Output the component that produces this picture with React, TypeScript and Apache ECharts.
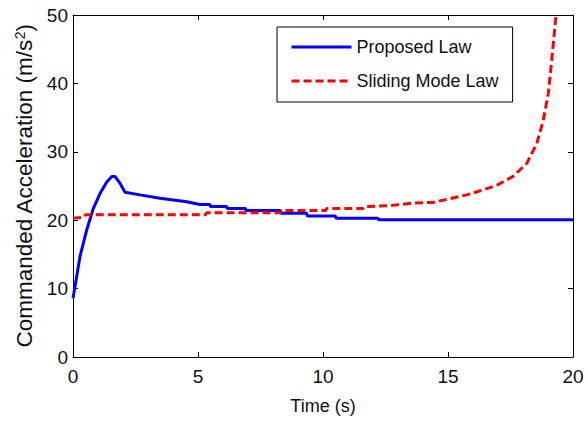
import React, { useEffect, useRef } from "react";
import * as echarts from "echarts";

const xTicks = [0, 5, 10, 15, 20];
const yTicks = [0, 10, 20, 30, 40, 50];

const proposedT = [0, 0.08, 0.28, 0.55, 0.81, 1.08, 1.35, 1.55, 1.68, 1.88, 2.08, 2.68, 3.48, 4.55, 5.08, 5.48, 5.5, 6.15, 6.17, 6.9, 6.92, 8.3, 8.32, 9.35, 9.37, 10.5, 10.52, 12.2, 12.22, 20];
const proposedA = [8.6, 10.3, 14.7, 18.6, 21.7, 23.9, 25.6, 26.4, 26.4, 25.4, 24.1, 23.7, 23.2, 22.7, 22.3, 22.3, 22.0, 22.0, 21.7, 21.7, 21.4, 21.4, 21.0, 21.0, 20.6, 20.6, 20.3, 20.3, 20.05, 20.05];

const slidingT = [0, 0.4, 0.5, 5.3, 5.35, 8.3, 8.35, 10.1, 10.15, 11.6, 11.65, 12.6, 13.6, 14.4, 14.95, 15.75, 16.28, 16.95, 17.6, 18.15, 18.55, 18.81, 19.01, 19.15, 19.32];
const slidingA = [20.3, 20.4, 20.8, 20.8, 21.1, 21.1, 21.4, 21.4, 21.7, 21.7, 22.0, 22.1, 22.5, 22.6, 23.05, 23.7, 24.3, 25.1, 26.4, 28.3, 31.2, 34.6, 38.5, 43.4, 50];

const seriesNames = ["Proposed Law", "Sliding Mode Law"];
const xName = "Time (s)";

const FONT = "Liberation Sans, Arial, Helvetica, sans-serif";

export default function App() {
  const ref = useRef<HTMLDivElement>(null);
  useEffect(() => {
    if (!ref.current) return;
    const chart = echarts.init(ref.current, undefined, { renderer: "svg" });
    const tick = { show: true, inside: true, length: 5, lineStyle: { color: "#000", width: 1 } };
    const line = { show: true, onZero: false, lineStyle: { color: "#000", width: 1 } };
    const xBase = {
      type: "value",
      min: xTicks[0],
      max: xTicks[xTicks.length - 1],
      interval: xTicks[1] - xTicks[0],
      splitLine: { show: false },
      axisLine: line,
      axisTick: tick,
    };
    const yBase = {
      type: "value",
      min: yTicks[0],
      max: yTicks[yTicks.length - 1],
      interval: yTicks[1] - yTicks[0],
      splitLine: { show: false },
      axisLine: line,
      axisTick: tick,
    };
    chart.setOption({
      animation: false,
      backgroundColor: "#fff",
      textStyle: { fontFamily: FONT },
      grid: { left: 73, top: 15, right: 15, bottom: 64, containLabel: false },
      legend: {
        orient: "vertical",
        left: 277,
        top: 27,
        padding: [10, 14, 11, 13],
        borderColor: "#000",
        borderWidth: 1,
        borderRadius: 0,
        backgroundColor: "#fff",
        itemWidth: 60,
        itemHeight: 14,
        itemGap: 14,
        itemStyle: { opacity: 0 },
        lineStyle: { width: 3 },
        data: seriesNames,
        textStyle: { fontSize: 18, color: "#111", fontFamily: FONT, lineHeight: 20 },
      },
      xAxis: [
        {
          ...xBase,
          position: "bottom",
          name: xName,
          nameLocation: "middle",
          nameGap: 40,
          nameTextStyle: { fontSize: 18, color: "#111", fontFamily: FONT },
          axisLabel: { fontSize: 19, color: "#111", margin: 10, fontFamily: FONT },
        },
        { ...xBase, position: "top", axisLabel: { show: false } },
      ],
      yAxis: [
        {
          ...yBase,
          position: "left",
          name: "Commanded Acceleration (m/s{sup|2})",
          nameLocation: "middle",
          nameRotate: 90,
          nameGap: 34,
          nameTextStyle: {
            fontSize: 22.5,
            color: "#111",
            fontFamily: FONT,
            rich: { sup: { fontSize: 14, verticalAlign: "top", color: "#111", fontFamily: FONT } },
          },
          axisLabel: { fontSize: 19, color: "#111", margin: 5, fontFamily: FONT },
        },
        { ...yBase, position: "right", axisLabel: { show: false } },
      ],
      series: [
        {
          name: seriesNames[0],
          type: "line",
          xAxisIndex: 0,
          yAxisIndex: 0,
          symbol: "none",
          showSymbol: false,
          lineStyle: { color: "#0000ff", width: 3 },
          itemStyle: { color: "#0000ff" },
          data: proposedT.map((t, i) => [t, proposedA[i]]),
        },
        {
          name: seriesNames[1],
          type: "line",
          xAxisIndex: 0,
          yAxisIndex: 0,
          symbol: "none",
          showSymbol: false,
          clip: true,
          lineStyle: { color: "#ff0000", width: 3, type: [8, 4] },
          itemStyle: { color: "#ff0000" },
          data: slidingT.map((t, i) => [t, slidingA[i]]),
        },
      ],
    });
    return () => chart.dispose();
  }, []);
  return (
    <div
      ref={ref}
      style={{ position: "fixed", left: 0, top: 0, width: 588, height: 421, background: "#fff" }}
    />
  );
}
